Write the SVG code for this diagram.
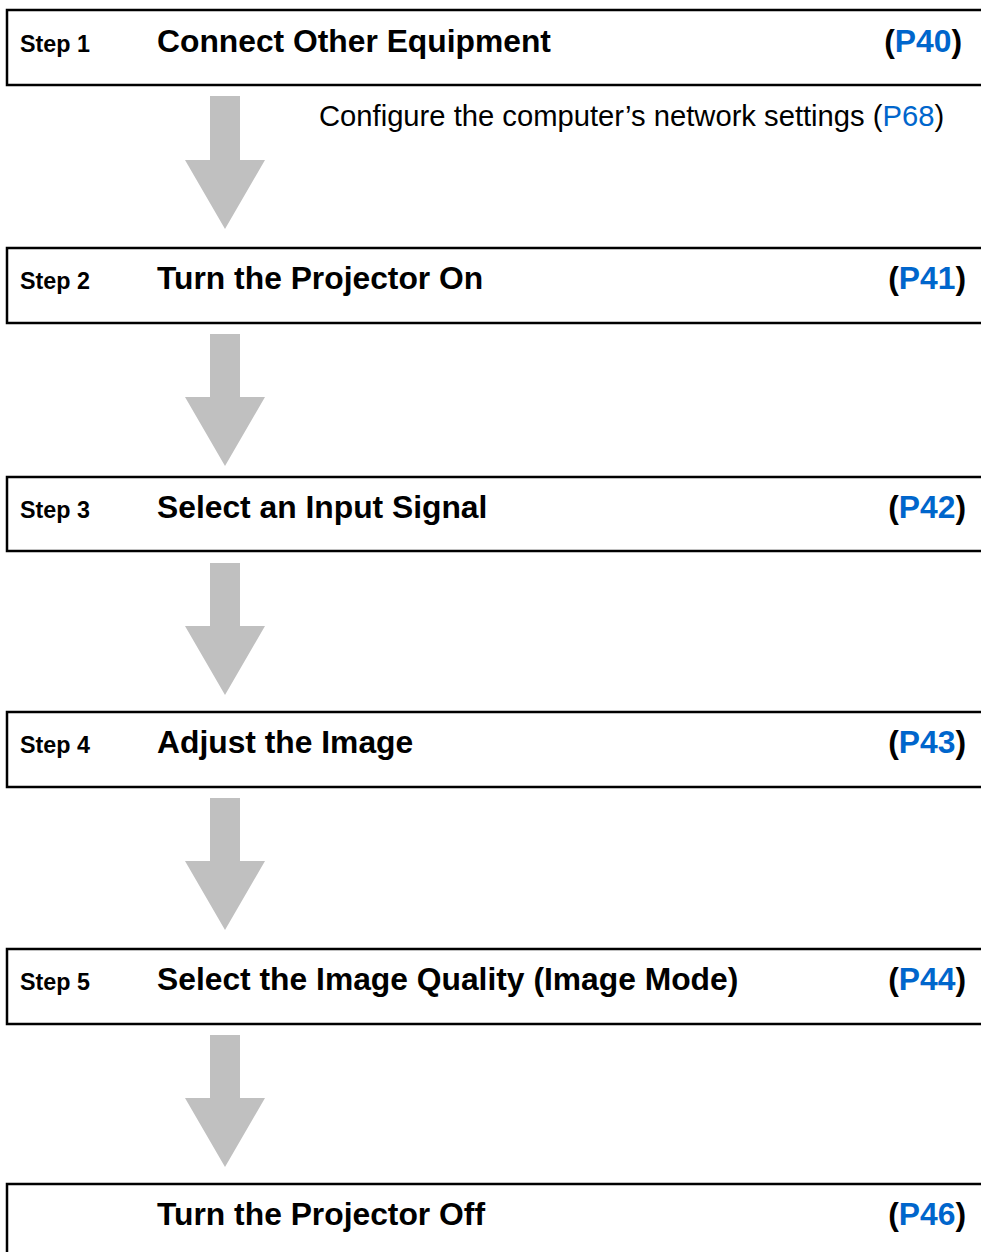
<svg xmlns="http://www.w3.org/2000/svg" width="981" height="1252" viewBox="0 0 981 1252">
<style>
.box{fill:#fff;stroke:#000;stroke-width:2.5}
.step{font-family:"Liberation Sans",Arial,sans-serif;font-weight:bold;font-size:23.3px;fill:#000}
.title{font-family:"Liberation Sans",Arial,sans-serif;font-weight:bold;font-size:31.8px;fill:#000}
.ref{font-family:"Liberation Sans",Arial,sans-serif;font-weight:bold;font-size:31.8px;fill:#000;text-anchor:end}
.link{fill:#0066cc}
.note{font-family:"Liberation Sans",Arial,sans-serif;font-size:29.2px;fill:#000}
.arrow{fill:#c0c0c0}
</style>
<rect width="981" height="1252" fill="#fff"/>
<g id="step1">
<rect class="box" x="7" y="10" width="990" height="75"/>
<text class="step" x="20" y="52">Step 1</text>
<text class="title" x="157" y="52">Connect Other Equipment</text>
<text class="ref" x="962" y="52">(<tspan class="link">P40</tspan>)</text>
</g>
<g id="note1">
<text class="note" x="319" y="126">Configure the computer’s network settings (<tspan class="link">P68</tspan>)</text>
</g>
<g id="step2">
<rect class="box" x="7" y="248" width="990" height="75"/>
<text class="step" x="20" y="289">Step 2</text>
<text class="title" x="157" y="289">Turn the Projector On</text>
<text class="ref" x="966" y="289">(<tspan class="link">P41</tspan>)</text>
</g>
<g id="step3">
<rect class="box" x="7" y="477" width="990" height="74"/>
<text class="step" x="20" y="518">Step 3</text>
<text class="title" x="157" y="518">Select an Input Signal</text>
<text class="ref" x="966" y="518">(<tspan class="link">P42</tspan>)</text>
</g>
<g id="step4">
<rect class="box" x="7" y="712" width="990" height="75"/>
<text class="step" x="20" y="753">Step 4</text>
<text class="title" x="157" y="753">Adjust the Image</text>
<text class="ref" x="966" y="753">(<tspan class="link">P43</tspan>)</text>
</g>
<g id="step5">
<rect class="box" x="7" y="949" width="990" height="75"/>
<text class="step" x="20" y="990">Step 5</text>
<text class="title" x="157" y="990">Select the Image Quality (Image Mode)</text>
<text class="ref" x="966" y="990">(<tspan class="link">P44</tspan>)</text>
</g>
<g id="step6">
<rect class="box" x="7" y="1184" width="990" height="90"/>
<text class="title" x="157" y="1225">Turn the Projector Off</text>
<text class="ref" x="966" y="1225">(<tspan class="link">P46</tspan>)</text>
</g>
<g id="connectors">
<path class="arrow" d="M210 96H240V160H265L225 229L185 160H210Z"/>
<path class="arrow" d="M210 334H240V397H265L225 466L185 397H210Z"/>
<path class="arrow" d="M210 563H240V626H265L225 695L185 626H210Z"/>
<path class="arrow" d="M210 798H240V861H265L225 930L185 861H210Z"/>
<path class="arrow" d="M210 1035H240V1098H265L225 1167L185 1098H210Z"/>
</g>
</svg>
